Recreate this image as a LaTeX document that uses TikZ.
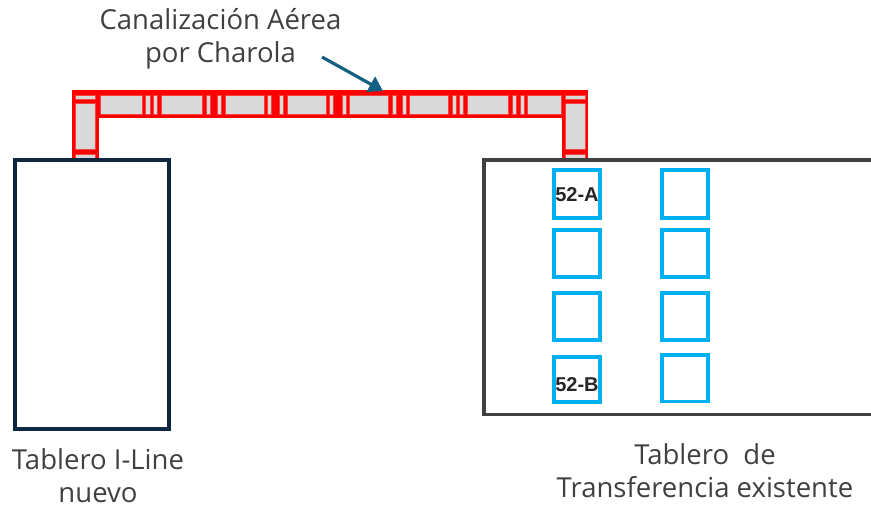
\documentclass[tikz,border=0pt]{standalone}
\usepackage{fontspec}
\setmainfont{Open Sans}
\newfontfamily\labfont{Liberation Sans}
\usetikzlibrary{arrows.meta}
\definecolor{trayred}{HTML}{FF0000}
\definecolor{traygray}{HTML}{D9D9D9}
\definecolor{bluebox}{HTML}{00B0F0}
\definecolor{navy}{HTML}{0E2841}
\definecolor{panelgray}{HTML}{404040}
\definecolor{arrowblue}{HTML}{156082}
\definecolor{txt}{HTML}{404040}
\tikzset{
  x=1pt,y=-1pt,
  caption/.style={font=\fontsize{27.5}{33}\selectfont,text=txt,align=center,inner sep=0pt},
  breaker/.style={draw=bluebox,line width=3.8pt,fill=none},
  tag/.style={font=\labfont\bfseries\fontsize{20}{22}\selectfont,text=black!85,inner sep=0pt},
  trayseg/.style={fill=traygray,draw=trayred!70!traygray,line width=0.5pt},
}
\newcommand{\hseg}[2]{\path[trayseg] (#1,95) rectangle (#2,114);}
\begin{document}
\begin{tikzpicture}
\useasboundingbox (0,0) rectangle (871,505);
% tray outline
\fill[trayred] (72,90) rectangle (588,118.5);
\fill[trayred] (72,90) rectangle (99,161);
\fill[trayred] (562,90) rectangle (588,161);
% horizontal tray sections
\foreach \a/\b in {100/142,145/150,153/157,161/202,206/210,217/221,225/264,267/271,279/283,287/326,329/333,342/346,349/388,392/396,402/406,409/448,452/456,459/463,467/508,512/516,520/524,527/561}{\hseg{\a}{\b}}
% vertical tray sections
\foreach \x in {75.5,565.5}{
  \path[trayseg] (\x,95) rectangle (\x+19.5,99);
  \path[trayseg] (\x,103) rectangle (\x+19.5,149);
  \path[trayseg] (\x,154) rectangle (\x+19.5,158);
}
% panels
\node[draw=navy,line width=3.6pt,minimum width=154pt,minimum height=269pt,inner sep=0pt,outer sep=0pt,anchor=center] (iline) at (92,294.5) {};
\draw[panelgray,line width=3.6pt] (875,160) -- (484,160) -- (484,414.5) -- (875,414.5);
% breakers
\foreach \n/\x/\y/\yy in {a/553.7/169.7/218.3,b/553.7/230/277,c/553.7/292.7/340.3,d/553.7/356.7/402.3,e/661.7/169.7/218.3,f/661.7/230/277,g/661.7/292.7/340.3,h/661.7/354.7/401.5}{
  \draw[breaker] (\x,\y) rectangle (\x+46.6,\yy);
}
\node[tag] (lblA) at (577,194.5) {52-A};
\node[tag] (lblB) at (577,384.5) {52-B};
% labels
\node[caption] (ttray) at (220.5,39) {Canalización Aérea\\por Charola};
\node[caption] (tleft) at (98,476) {Tablero I-Line\\nuevo};
\node[caption] (tright) at (705,471) {Tablero\ \ de\\Transferencia existente};
\coordinate (arrowStart) at (322,57);
\coordinate (arrowEnd) at (383,91);
\draw[-{Triangle[length=14pt,width=17pt]},arrowblue,line width=3.2pt] (arrowStart) -- (arrowEnd);
\end{tikzpicture}
\end{document}
